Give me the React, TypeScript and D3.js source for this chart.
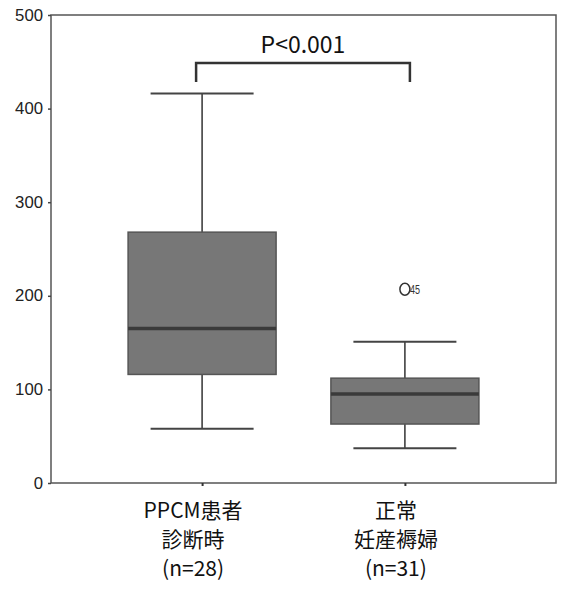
import React, { useRef, useEffect } from 'react';
import * as d3 from 'd3';

const categories = ['PPCM', 'Normal'];
const labelLines = [
  ['PPCM患者', '診断時', '(n=28)'],
  ['正常', '妊産褥婦', '(n=31)'],
];
const whiskerLow = [58, 37];
const q1 = [116, 63];
const median = [165, 95];
const q3 = [268, 112];
const whiskerHigh = [416, 151];
const outliers = [{ cat: 'Normal', value: 207, label: '45' }];
const yTicks = [0, 100, 200, 300, 400, 500];
const pLabel = 'P<0.001';

export default function App() {
  const ref = useRef<SVGSVGElement>(null);

  useEffect(() => {
    const svg = d3.select(ref.current);
    svg.selectAll('*').remove();

    const width = 561;
    const height = 589;
    const margin = { top: 15, right: 5, bottom: 106, left: 51 };

    const x = d3
      .scalePoint<string>()
      .domain(categories)
      .range([margin.left, width - margin.right])
      .padding(0.745);

    const y = d3
      .scaleLinear()
      .domain([0, 500])
      .range([height - margin.bottom, margin.top]);

    const boxW = 148;
    const capW = 103;
    const jp = "'Noto Sans CJK JP', 'Noto Sans', sans-serif";
    const narrow = "'Liberation Sans Narrow', 'Liberation Sans', sans-serif";

    svg.attr('viewBox', `0 0 ${width} ${height}`);

    // frame
    svg
      .append('rect')
      .attr('x', margin.left)
      .attr('y', margin.top)
      .attr('width', width - margin.left - margin.right)
      .attr('height', height - margin.top - margin.bottom)
      .attr('fill', 'none')
      .attr('stroke', '#555')
      .attr('stroke-width', 1.5);

    // Y axis
    const yAxis = svg
      .append('g')
      .attr('transform', `translate(${margin.left},0)`)
      .call(d3.axisLeft(y).tickValues(yTicks).tickSize(3).tickPadding(5));
    yAxis.select('.domain').remove();
    yAxis.selectAll('line').attr('stroke', '#444').attr('stroke-width', 1.5);
    yAxis
      .selectAll<SVGTextElement, number>('text')
      .attr('fill', '#222')
      .attr('textLength', d => String(d).length * 9.3)
      .attr('lengthAdjust', 'spacingAndGlyphs')
      .style('font-family', narrow)
      .style('font-size', '16px');

    // X ticks
    const xAxis = svg
      .append('g')
      .attr('transform', `translate(0,${height - margin.bottom})`)
      .call(d3.axisBottom(x).tickSize(3).tickFormat(() => ''));
    xAxis.select('.domain').remove();
    xAxis.selectAll('line').attr('stroke', '#333').attr('stroke-width', 2);

    categories.forEach((c, i) => {
      const cx = x(c)!;
      const g = svg.append('g');
      // whiskers
      g.append('line')
        .attr('x1', cx).attr('x2', cx)
        .attr('y1', y(whiskerHigh[i])).attr('y2', y(q3[i]))
        .attr('stroke', '#333').attr('stroke-width', 1.5);
      g.append('line')
        .attr('x1', cx).attr('x2', cx)
        .attr('y1', y(q1[i])).attr('y2', y(whiskerLow[i]))
        .attr('stroke', '#333').attr('stroke-width', 1.5);
      [whiskerHigh[i], whiskerLow[i]].forEach(v => {
        g.append('line')
          .attr('x1', cx - capW / 2).attr('x2', cx + capW / 2)
          .attr('y1', y(v)).attr('y2', y(v))
          .attr('stroke', '#444').attr('stroke-width', 2);
      });
      // box
      g.append('rect')
        .attr('x', cx - boxW / 2)
        .attr('y', y(q3[i]))
        .attr('width', boxW)
        .attr('height', y(q1[i]) - y(q3[i]))
        .attr('fill', '#777')
        .attr('stroke', '#555')
        .attr('stroke-width', 1.5);
      // median
      g.append('line')
        .attr('x1', cx - boxW / 2).attr('x2', cx + boxW / 2)
        .attr('y1', y(median[i])).attr('y2', y(median[i]))
        .attr('stroke', '#3a3a3a').attr('stroke-width', 3.5);

      // category labels
      const t = svg
        .append('text')
        .attr('text-anchor', 'middle')
        .style('font-family', jp)
        .style('font-size', '21px')
        .attr('fill', '#111');
      labelLines[i].forEach((s, k) => {
        t.append('tspan')
          .attr('x', cx - 9)
          .attr('y', 518 + k * 29)
          .text(s);
      });
    });

    // outliers
    outliers.forEach(o => {
      const cx = x(o.cat)!;
      svg.append('ellipse')
        .attr('cx', cx).attr('cy', y(o.value))
        .attr('rx', 5).attr('ry', 6)
        .attr('fill', 'none').attr('stroke', '#333').attr('stroke-width', 1.5);
      svg.append('text')
        .attr('x', cx + 5).attr('y', y(o.value) + 5)
        .attr('textLength', 10)
        .attr('lengthAdjust', 'spacingAndGlyphs')
        .style('font-family', narrow)
        .style('font-size', '13px')
        .attr('fill', '#333')
        .text(o.label);
    });

    // significance bracket
    const bx1 = x(categories[0])! - 6;
    const bx2 = x(categories[1])! + 5;
    const byTop = 63;
    const byBot = 82;
    svg.append('path')
      .attr('d', `M${bx1},${byBot}V${byTop}H${bx2}V${byBot}`)
      .attr('fill', 'none')
      .attr('stroke', '#333')
      .attr('stroke-width', 2.5);
    svg.append('text')
      .attr('x', (bx1 + bx2) / 2)
      .attr('y', 53)
      .attr('text-anchor', 'middle')
      .style('font-family', jp)
      .style('font-size', '23px')
      .attr('fill', '#111')
      .text(pLabel);
  }, []);

  return (
    <svg
      ref={ref}
      width={561}
      height={589}
      style={{ display: 'block', position: 'absolute', left: 0, top: 0 }}
    />
  );
}
